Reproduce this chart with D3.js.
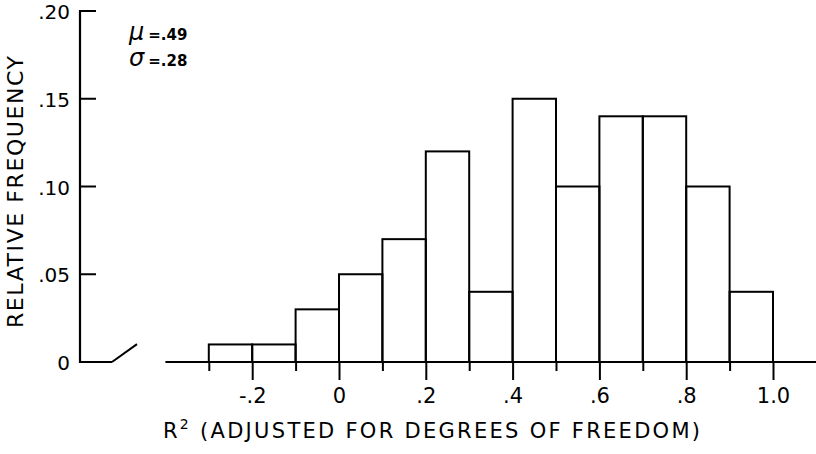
<!DOCTYPE html>
<html>
<head>
<meta charset="utf-8">
<script src="https://cdn.jsdelivr.net/npm/d3@7"></script>
<style>
  body { margin: 0; background: #fff; }
  svg { display: block; }
  text { font-family: "DejaVu Sans", "Liberation Sans", sans-serif; fill: #000; }
</style>
</head>
<body>
<svg id="chart" width="816" height="454"></svg>
<script>
// bins of R^2 (width 0.1), lower edges and relative frequencies
var binStarts = [-0.3, -0.2, -0.1, 0.0, 0.1, 0.2, 0.3, 0.4, 0.5, 0.6, 0.7, 0.8, 0.9];
var freqs     = [0.01, 0.01, 0.03, 0.05, 0.07, 0.12, 0.04, 0.15, 0.10, 0.14, 0.14, 0.10, 0.04];
var binWidth = 0.1;

var xMajorTicks = [-0.2, 0, 0.2, 0.4, 0.6, 0.8, 1.0];
var xMajorLabels = ["-.2", "0", ".2", ".4", ".6", ".8", "1.0"];
var xMinorTicks = [-0.3, -0.1, 0.1, 0.3, 0.5, 0.7, 0.9];
var yTicks = [0.05, 0.10, 0.15, 0.20];
var yLabels = [".05", ".10", ".15", ".20"];

var svg = d3.select("#chart");

var x = d3.scaleLinear().domain([0, 1]).range([339, 773]);
var y = d3.scaleLinear().domain([0, 0.2]).range([362, 11]);

// bars (open rectangles)
svg.append("g")
  .selectAll("rect")
  .data(binStarts)
  .join("rect")
  .attr("x", function(d) { return x(d); })
  .attr("y", function(d, i) { return y(freqs[i]); })
  .attr("width", function(d) { return x(d + binWidth) - x(d); })
  .attr("height", function(d, i) { return y(0) - y(freqs[i]); })
  .attr("fill", "none")
  .attr("stroke", "#000")
  .attr("stroke-width", 2);

// x baseline, runs a little past the data on both ends
svg.append("line")
  .attr("x1", x(-0.4)).attr("x2", x(1.1))
  .attr("y1", y(0)).attr("y2", y(0))
  .attr("stroke", "#000").attr("stroke-width", 2);

// x axis: long labelled ticks and short unlabelled ones
var xMajor = d3.axisBottom(x)
  .tickValues(xMajorTicks)
  .tickSize(18)
  .tickPadding(8)
  .tickFormat(function(d, i) { return xMajorLabels[i]; });
var gxMaj = svg.append("g").attr("transform", "translate(0," + y(0) + ")").call(xMajor);
gxMaj.select(".domain").remove();

var xMinor = d3.axisBottom(x).tickValues(xMinorTicks).tickSize(9).tickFormat("");
var gxMin = svg.append("g").attr("transform", "translate(0," + y(0) + ")").call(xMinor);
gxMin.select(".domain").remove();

svg.selectAll(".tick line").attr("stroke", "#000").attr("stroke-width", 2);
gxMaj.selectAll("text").attr("font-size", 21).attr("font-family", "DejaVu Sans");

// y axis line
svg.append("line")
  .attr("x1", 80).attr("x2", 80)
  .attr("y1", y(0.2) - 1).attr("y2", y(0) + 1)
  .attr("stroke", "#000").attr("stroke-width", 2.2);

// y ticks pointing inward, labels on the left
svg.append("g")
  .selectAll("line")
  .data(yTicks)
  .join("line")
  .attr("x1", 80).attr("x2", 96)
  .attr("y1", function(d) { return y(d); })
  .attr("y2", function(d) { return y(d); })
  .attr("stroke", "#000").attr("stroke-width", 2);

svg.append("g")
  .selectAll("text")
  .data(yTicks)
  .join("text")
  .attr("x", 70)
  .attr("y", function(d) { return y(d); })
  .attr("dy", "0.4em")
  .attr("text-anchor", "end")
  .attr("font-size", 20)
  .text(function(d, i) { return yLabels[i]; });

// zero label and axis break
svg.append("text")
  .attr("x", 70).attr("y", y(0)).attr("dy", "0.4em")
  .attr("text-anchor", "end").attr("font-size", 20)
  .text("0");
svg.append("line")
  .attr("x1", 79).attr("x2", 112).attr("y1", y(0)).attr("y2", y(0))
  .attr("stroke", "#000").attr("stroke-width", 2);
svg.append("line")
  .attr("x1", 112).attr("x2", 137).attr("y1", y(0)).attr("y2", y(0.0102))
  .attr("stroke", "#000").attr("stroke-width", 2);

// axis titles
svg.append("text")
  .attr("transform", "translate(23,192) rotate(-90)")
  .attr("text-anchor", "middle")
  .attr("font-size", 22)
  .attr("textLength", 272)
  .attr("lengthAdjust", "spacing")
  .text("RELATIVE  FREQUENCY");

var xt = svg.append("text")
  .attr("x", 163).attr("y", 438)
  .attr("font-size", 21)
  .attr("textLength", 537)
  .attr("lengthAdjust", "spacing");
xt.append("tspan").text("R");
xt.append("tspan").attr("font-size", 14).attr("dy", -9).text("2");
xt.append("tspan").attr("dy", 9).text("  (ADJUSTED FOR DEGREES OF FREEDOM)");

// summary stats
var stats = [["\u03bc", "=.49"], ["\u03c3", "=.28"]];
stats.forEach(function(s, i) {
  var t = svg.append("text").attr("x", 129).attr("y", 40 + i * 26);
  t.append("tspan").attr("font-size", 24).attr("font-style", "italic").text(s[0]);
  t.append("tspan").attr("dx", 4).attr("font-size", 15).attr("font-weight", "bold").text(s[1]);
});
</script>
</body>
</html>
